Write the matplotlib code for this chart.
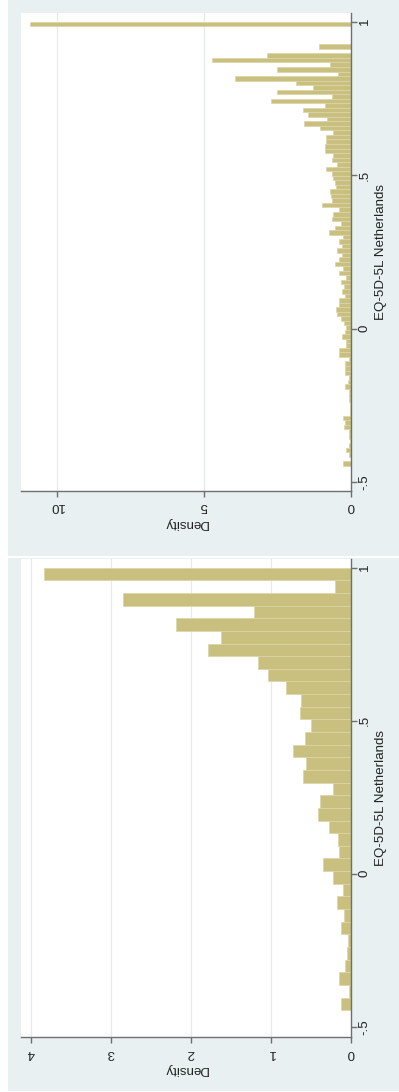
import numpy as np
import matplotlib
matplotlib.use("Agg")
import matplotlib.pyplot as plt
from matplotlib.patches import Rectangle

plt.rcParams['font.family'] = ['Liberation Sans', 'DejaVu Sans']

# ---- data -------------------------------------------------------------
value_min, value_max = -0.446, 1.0

# fine-binned histogram (98 bins), densities from lowest to highest bin
fine_density = [
    0.26, 0.00, 0.07, 0.16, 0.08, 0.03, 0.06, 0.06, 0.24, 0.22,
    0.26, 0.03, 0.02, 0.02, 0.07, 0.06, 0.08, 0.19, 0.09, 0.08,
    0.20, 0.22, 0.22, 0.08, 0.40, 0.40, 0.17, 0.17, 0.30, 0.20,
    0.17, 0.25, 0.34, 0.48, 0.50, 0.40, 0.42, 0.19, 0.31, 0.23,
    0.34, 0.17, 0.40, 0.28, 0.56, 0.42, 0.31, 0.49, 0.31, 0.42,
    0.28, 0.76, 0.56, 0.34, 0.64, 0.62, 0.42, 0.98, 0.66, 0.68,
    0.71, 0.51, 0.53, 0.62, 0.66, 0.85, 0.48, 0.66, 0.62, 0.88,
    0.88, 0.86, 0.85, 0.62, 1.05, 1.60, 0.80, 1.47, 1.63, 0.87,
    2.72, 0.65, 2.52, 1.29, 1.86, 3.93, 0.45, 2.52, 0.72, 4.72,
    2.86, 0.00, 1.08, 0.00, 0.00, 0.00, 0.00, 10.90,
]

# coarse-binned histogram (35 bins), densities from lowest to highest bin
coarse_density = [
    0.125, 0.02, 0.15, 0.07, 0.05, 0.04, 0.13, 0.09, 0.18, 0.10,
    0.22, 0.35, 0.15, 0.16, 0.27, 0.41, 0.39, 0.23, 0.60, 0.56,
    0.72, 0.58, 0.50, 0.64, 0.62, 0.81, 1.04, 1.16, 1.78, 1.625,
    2.19, 1.21, 2.85, 0.20, 3.84,
]

value_ticks = [-0.5, 0, 0.5, 1]
value_ticklabels = ['-.5', '0', '.5', '1']
fine_density_ticks = [0, 5, 10]
coarse_density_ticks = [0, 1, 2, 3, 4]
value_label = 'EQ-5D-5L Netherlands'
density_label = 'Density'

# ---- style --------------------------------------------------------------
W, H = 399, 1092
BG = '#e8f0f2'
BAR = '#c9bf7f'
BAR_EDGE = '#dcd5a6'
AXIS = '#6f6f6f'
GRID = '#e6eaec'
FS = 9.6

fig = plt.figure(figsize=(W / 100, H / 100), dpi=100)
fig.patch.set_facecolor('white')


def frac_rect(x0, y0, x1, y1):
    return [x0 / W, 1 - y1 / H, (x1 - x0) / W, (y1 - y0) / H]


# graph-region backgrounds
for (x0, y0, x1, y1) in [(8.3, 0, W, 556), (8.3, 557.5, W, 1090.7)]:
    r = frac_rect(x0, y0, x1, y1)
    fig.add_artist(Rectangle((r[0], r[1]), r[2], r[3], transform=fig.transFigure,
                             facecolor=BG, edgecolor='none', zorder=0))


def draw_panel(rect, density, dticks, dlim, vlim):
    ax = fig.add_axes(frac_rect(*rect))
    ax.set_facecolor('white')
    n = len(density)
    edges = np.linspace(value_min, value_max, n + 1)
    ax.barh(edges[:-1], density, height=np.diff(edges), align='edge',
            color=BAR, edgecolor=BAR_EDGE, linewidth=0.5, zorder=2)
    ax.set_xlim(*dlim)
    ax.set_ylim(*vlim)

    for t in dticks[1:]:
        ax.axvline(t, color=GRID, lw=0.9, zorder=1)

    for s in ['top', 'left']:
        ax.spines[s].set_visible(False)
    for s in ['bottom', 'right']:
        ax.spines[s].set_color(AXIS)
        ax.spines[s].set_linewidth(1.0)
        ax.spines[s].set_zorder(3)

    ax.yaxis.tick_right()
    ax.set_xticks(dticks)
    ax.set_xticklabels([str(t) for t in dticks])
    ax.set_yticks(value_ticks)
    ax.set_yticklabels(value_ticklabels)
    ax.tick_params(axis='x', direction='out', length=4, width=1, color=AXIS,
                   labelsize=FS, labelrotation=180, pad=3, labelcolor='#222222')
    ax.tick_params(axis='y', direction='out', length=4, width=1, color=AXIS,
                   labelsize=FS, labelrotation=90, pad=1.5, labelcolor='#222222')
    for lab in ax.get_yticklabels():
        lab.set_va('center')

    ax.set_xlabel(density_label, fontsize=FS, rotation=180, color='#222222')
    ax.xaxis.set_label_coords(0.5, -32 / 478)
    ax.xaxis.label.set_va('center')
    ax.yaxis.set_label_position('right')
    ax.set_ylabel(value_label, fontsize=FS, rotation=90, color='#222222')
    ax.yaxis.set_label_coords(1 + 30 / 330, 0.5)
    ax.yaxis.label.set_va('center')
    ax.yaxis.label.set_ha('center')
    return ax


draw_panel((20.7, 12.7, 351, 490.7), fine_density, fine_density_ticks,
           (11.23, 0), (-0.5274, 1.0293))
draw_panel((21, 559, 351, 1037), coarse_density, coarse_density_ticks,
           (4.121, 0), (-0.5337, 1.0284))

fig.savefig('out.png', dpi=100, facecolor=fig.get_facecolor())
